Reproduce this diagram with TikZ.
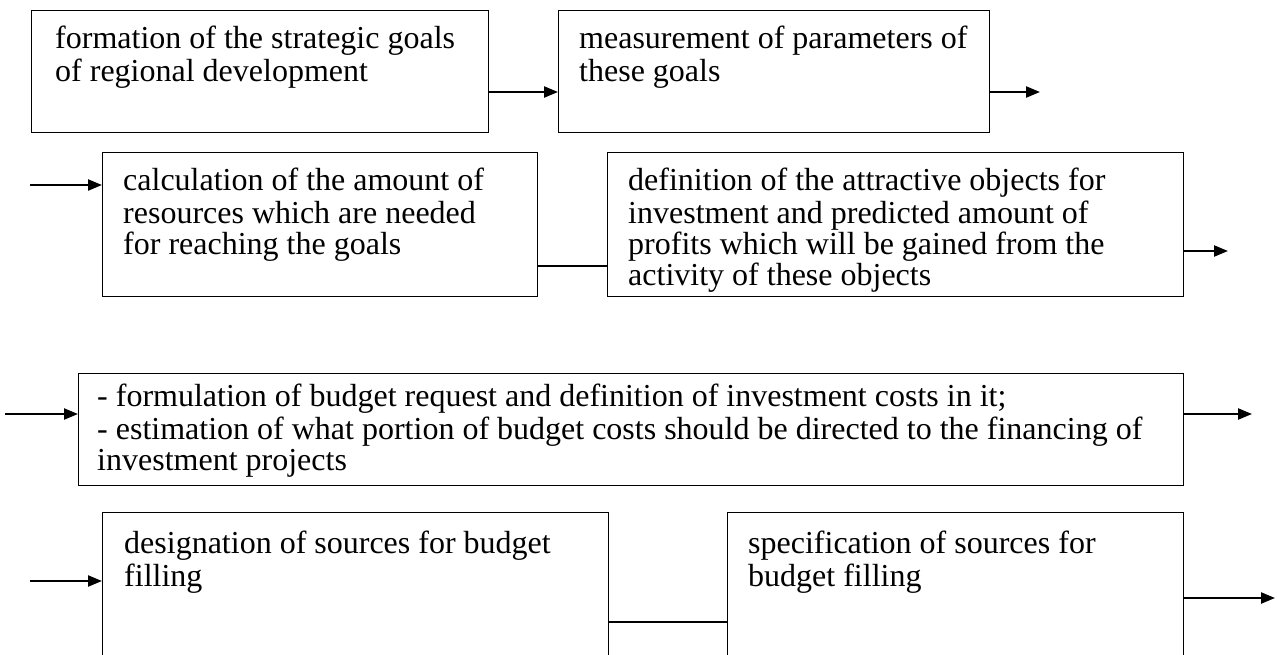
\documentclass[tikz,border=0pt]{standalone}
\usepackage{fontspec}
\setmainfont{Liberation Serif}
\usetikzlibrary{arrows.meta,calc}
\begin{document}
\begin{tikzpicture}[x=1pt,y=-1pt,
  box/.style={draw,line width=1.4pt,inner sep=0pt,anchor=north west},
  txt/.style={anchor=north west,inner sep=0pt,align=left,font=\fontsize{32}{31}\selectfont},
  arr/.style={line width=2.3pt,-{Triangle[length=14pt,width=11pt]}},
  ln/.style={line width=1.4pt}]
\useasboundingbox (0,0) rectangle (1277,654);
\clip (0,0) rectangle (1277,654);
% row 1
\node[box,minimum width=457pt,minimum height=122pt] (A) at (31,10) {};
\node[box,minimum width=431pt,minimum height=122pt] (B) at (558,10) {};
\node[txt] (At) at ($(A.north west)+(24,16)$) {\strut formation of the strategic goals\\of regional development};
\node[txt] (Bt) at ($(B.north west)+(21,16)$) {\strut measurement of parameters of\\these goals};
\coordinate (r1) at (0,92);
\coordinate (oB) at (1040,92);
\draw[arr] (A.east |- r1) -- (B.west |- r1);
\draw[arr] (B.east |- oB) -- (oB);
% row 2
\node[box,minimum width=435pt,minimum height=144pt] (C) at (102,152) {};
\node[box,minimum width=576pt,minimum height=144pt] (D) at (607,152) {};
\node[txt] (Ct) at ($(C.north west)+(21,16)$) {\strut calculation of the amount of\\resources which are needed\\for reaching the goals};
\node[txt] (Dt) at ($(D.north west)+(21,16)$) {\strut definition of the attractive objects for\\investment and predicted amount of\\profits which will be gained from the\\activity of these objects};
\coordinate (iC) at (30,185);
\coordinate (cd) at (0,266);
\coordinate (oD) at (1228,251);
\draw[arr] (iC) -- (iC -| C.west);
\draw[ln] (C.east |- cd) -- (D.west |- cd);
\draw[arr] (D.east |- oD) -- (oD);
% row 3
\node[box,minimum width=1105pt,minimum height=112pt] (E) at (78,373) {};
\node[txt] (Et) at ($(E.north west)+(19,11)$) {\strut - formulation of budget request and definition of investment costs in it;\\- estimation of what portion of budget costs should be directed to the financing of\\investment projects};
\coordinate (iE) at (5,414);
\coordinate (oE) at (1252,414);
\draw[arr] (iE) -- (iE -| E.west);
\draw[arr] (E.east |- oE) -- (oE);
% row 4
\node[box,minimum width=506pt,minimum height=190pt] (F) at (102,512) {};
\node[box,minimum width=456pt,minimum height=190pt] (G) at (727,512) {};
\node[txt] (Ft) at ($(F.north west)+(22,19)$) {\strut designation of sources for budget\\filling};
\node[txt] (Gt) at ($(G.north west)+(21,19)$) {\strut specification of sources for\\budget filling};
\coordinate (iF) at (30,581);
\coordinate (fg) at (0,622);
\coordinate (oG) at (1275,598);
\draw[arr] (iF) -- (iF -| F.west);
\draw[ln] (F.east |- fg) -- (G.west |- fg);
\draw[arr] (G.east |- oG) -- (oG);
\end{tikzpicture}
\end{document}
